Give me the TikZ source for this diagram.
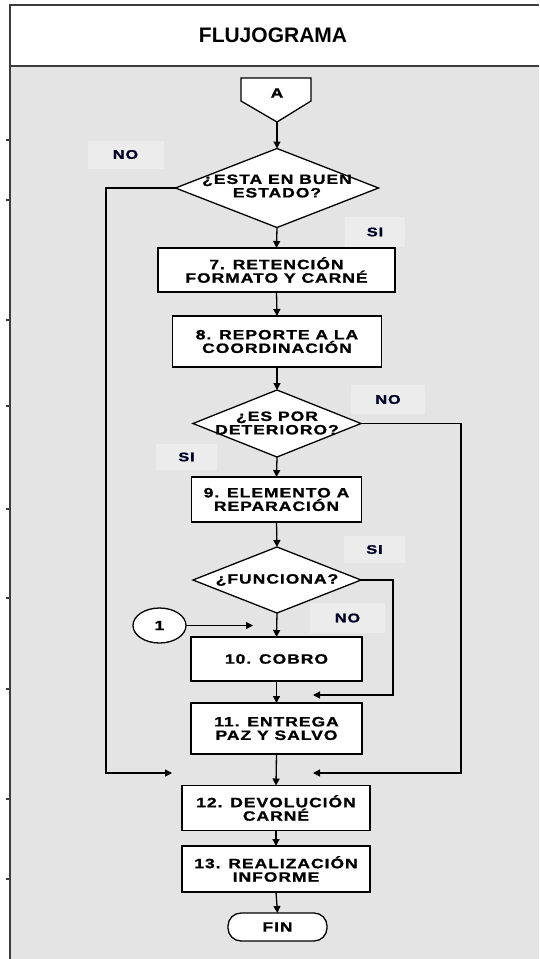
\documentclass[tikz,border=0pt]{standalone}
\usepackage{fontspec}
\setmainfont{Liberation Sans}
% wide, letter-spaced heavy face for the flow chart texts
\newfontfamily\wide{Liberation Sans}[FakeStretch=1.3,LetterSpace=7,FakeBold=1.2,
  BoldFeatures={FakeStretch=1.3,LetterSpace=7,FakeBold=1.2}]
\usetikzlibrary{arrows.meta,shapes.geometric}
\definecolor{panel}{HTML}{E4E4E4}
\definecolor{tagfill}{HTML}{ECECEC}
\definecolor{rulecol}{HTML}{3C3C3C}
\begin{document}
\begin{tikzpicture}[x=1pt,y=-1pt,
  boxtxt/.style={font=\wide\bfseries\fontsize{13.5}{13.5}\selectfont,align=center},
  stepbox/.style={boxtxt,draw=black,line width=1.3pt,fill=white,rectangle,
    inner sep=0pt,outer sep=0pt},
  decision/.style={draw=black,line width=1.3pt,fill=white,diamond,
    inner sep=0pt,outer sep=0pt},
  tagbox/.style={fill=tagfill,inner sep=0pt,text=black!85!blue,
    font=\wide\bfseries\fontsize{12.5}{12.5}\selectfont},
  link/.style={line width=1.3pt,draw=black},
  arr/.style={link,-{Triangle[length=7pt,width=7pt]}},
  tick/.style={line width=1.2pt,draw=rulecol}]
\useasboundingbox (0,0) rectangle (539,959);

% frame: white header and grey body
\fill[white] (0,0) rectangle (539,959);
\fill[panel] (10,66) rectangle (539,959);
\draw[line width=2.4pt,rulecol] (9,5) -- (539,5);
\draw[line width=2.4pt,rulecol] (9,66) -- (539,66);
\draw[line width=2.4pt,rulecol] (10,4) -- (10,959);
\foreach \ty in {140,200,320,406,509,598,689,799,879}
  \draw[tick] (6,\ty) -- (10,\ty);

\node (title) at (273,35) {\bfseries\fontsize{21}{21}\selectfont FLUJOGRAMA};

% off-page connector A
\draw[line width=1.3pt,fill=white] (241,78) -- (311,78) -- (311,101) -- (277,122) -- (241,101) -- cycle;
\node[boxtxt] (A) at (277,93) {A};
\coordinate (Atip) at (277,122);

% decisions
\node[decision,minimum width=203pt,minimum height=79pt] (d1) at (277,188) {};
\node[boxtxt] (d1t) at (277,186) {¿ESTA EN BUEN\\ESTADO?};
\node[decision,minimum width=168pt,minimum height=67pt] (d2) at (277,423.5) {};
\node[boxtxt] (d2t) at (277,423) {¿ES POR\\DETERIORO?};
\node[decision,minimum width=168pt,minimum height=66pt] (d3) at (277,580) {};
\node[boxtxt] (d3t) at (277,580) {¿FUNCIONA?};

% process steps
\node[stepbox,minimum width=237pt,minimum height=44pt] (b7) at (276.5,270) {7. RETENCIÓN\\FORMATO Y CARNÉ};
\node[stepbox,minimum width=209pt,minimum height=51pt] (b8) at (277,341.5) {8. REPORTE A LA\\COORDINACIÓN};
\node[stepbox,minimum width=170pt,minimum height=45pt] (b9) at (276.5,499.5) {9. ELEMENTO A\\REPARACIÓN};
\node[stepbox,minimum width=171pt,minimum height=44pt] (b10) at (276.5,659) {10. COBRO};
\node[stepbox,minimum width=171pt,minimum height=51pt] (b11) at (276.5,728.5) {11. ENTREGA\\PAZ Y SALVO};
\node[stepbox,minimum width=188pt,minimum height=45pt] (b12) at (276,808) {12. DEVOLUCIÓN\\CARNÉ};
\node[stepbox,minimum width=188pt,minimum height=46pt] (b13) at (276,869) {13. REALIZACIÓN\\INFORME};
\node[stepbox,rounded corners=13pt,minimum width=99pt,minimum height=28pt] (fin) at (277.5,927) {FIN};

% on-page connector 1
\node[boxtxt,draw=black,line width=1.3pt,fill=white,ellipse,inner sep=0pt,outer sep=0pt,
  minimum width=53pt,minimum height=35pt] (c1) at (159.5,625.5) {1};

% branch labels
\node[tagbox,minimum width=76pt,minimum height=28pt] (no1) at (125.5,154.5) {NO};
\node[tagbox,minimum width=60pt,minimum height=30pt] (si1) at (375,232) {SI};
\node[tagbox,minimum width=74pt,minimum height=29pt] (no2) at (388,399.5) {NO};
\node[tagbox,minimum width=61pt,minimum height=26pt] (si2) at (186.5,457) {SI};
\node[tagbox,minimum width=61pt,minimum height=27pt] (si3) at (374.5,549.5) {SI};
\node[tagbox,minimum width=75pt,minimum height=30pt] (no3) at (347.5,618) {NO};

% bend points and loose arrow ends
\coordinate (lft) at (106,773);
\coordinate (lftend) at (172,773);
\coordinate (rgt) at (461,773);
\coordinate (rgtend) at (313,773);
\coordinate (sibend) at (393,695);
\coordinate (siend) at (313,695);
\coordinate (c1end) at (253,625.5);

% main flow
\draw[arr] (Atip) -- (d1.north);
\draw[arr] (d1.south) -- (b7.north);
\draw[arr] (b7.south) -- (b8.north);
\draw[arr] (b8.south) -- (d2.north);
\draw[arr] (d2.south) -- (b9.north);
\draw[arr] (b9.south) -- (d3.north);
\draw[arr] (d3.south) -- (b10.north);
\draw[arr] (b10.south) -- (b11.north);
\draw[arr] (b11.south) -- (b12.north);
\draw[arr] (b12.south) -- (b13.north);
\draw[arr] (b13.south) -- (fin.north);

% side branches
\draw[arr] (d1.west) -| (lft) -- (lftend);
\draw[arr] (d2.east) -| (rgt) -- (rgtend);
\draw[arr] (d3.east) -| (sibend) -- (siend);
\draw[arr] (c1.east) -- (c1end);
\end{tikzpicture}
\end{document}
